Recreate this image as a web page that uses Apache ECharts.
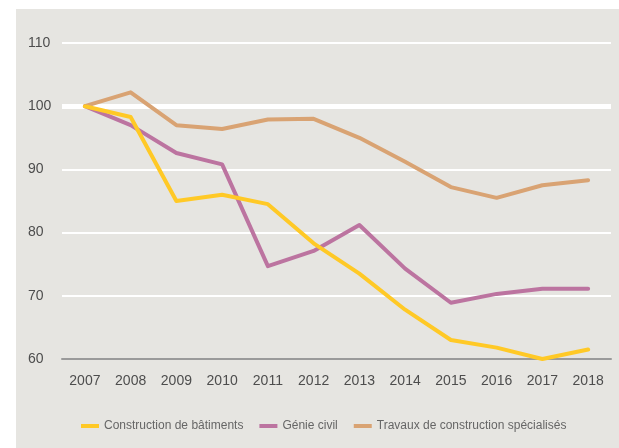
<!DOCTYPE html>
<html>
<head>
<meta charset="utf-8">
<script src="https://cdn.jsdelivr.net/npm/echarts@6/dist/echarts.min.js"></script>
<style>
  html, body { margin: 0; padding: 0; background: #fff; }
  #chart { width: 619px; height: 448px; }
</style>
</head>
<body>
<div id="chart"></div>
<script>
var years = ['2007', '2008', '2009', '2010', '2011', '2012', '2013', '2014', '2015', '2016', '2017', '2018'];
var batiments = [100, 98.3, 85, 86, 84.5, 78.3, 73.5, 67.8, 63, 61.8, 60, 61.5];
var genieCivil = [100, 97, 92.6, 90.8, 74.7, 77.1, 81.2, 74.3, 68.9, 70.3, 71.1, 71.1];
var travaux = [100, 102.2, 97, 96.4, 97.9, 98, 95, 91.2, 87.2, 85.5, 87.5, 88.3];
var seriesNames = ['Construction de bâtiments', 'Génie civil', 'Travaux de construction spécialisés'];

var font = '"Liberation Sans Narrow", "Liberation Sans", sans-serif';
var myChart = echarts.init(document.getElementById('chart'));

function lineSeries(name, data, color) {
  return {
    name: name,
    type: 'line',
    data: data,
    symbol: 'none',
    color: color,
    lineStyle: { width: 4, color: color, cap: 'round', join: 'round' },
    z: 3
  };
}

var sBat = lineSeries(seriesNames[0], batiments, '#FFC926');
var sGenie = lineSeries(seriesNames[1], genieCivil, '#BC74A0');
var sTrav = lineSeries(seriesNames[2], travaux, '#D9A373');
// ligne de référence 100 plus épaisse
sTrav.markLine = {
  silent: true,
  symbol: 'none',
  label: { show: false },
  lineStyle: { color: '#ffffff', width: 5, type: 'solid' },
  data: [{ yAxis: 100 }],
  z: 1
};

var option = {
  backgroundColor: '#ffffff',
  animation: false,
  graphic: [{
    type: 'rect',
    z: -10,
    shape: { x: 16, y: 9, width: 603, height: 439 },
    style: { fill: '#E6E5E1' }
  }],
  grid: { left: 62, right: 8, top: 43, bottom: 89 },
  legend: {
    data: seriesNames,
    left: 76,
    top: 415,
    icon: 'rect',
    itemWidth: 18,
    itemHeight: 4,
    itemGap: 16,
    textStyle: { fontFamily: font, fontSize: 12, color: '#666666' }
  },
  xAxis: {
    type: 'category',
    data: years,
    boundaryGap: true,
    axisLine: { lineStyle: { color: '#9A9A9A', width: 2 } },
    axisTick: { show: false },
    axisLabel: { interval: 0, fontFamily: font, fontSize: 14, color: '#4D4D4D', margin: 15 }
  },
  yAxis: {
    type: 'value',
    min: 60,
    max: 110,
    interval: 10,
    axisLine: { show: false },
    axisTick: { show: false },
    axisLabel: { fontFamily: font, fontSize: 14, color: '#4D4D4D', align: 'left', margin: 34 },
    splitLine: { lineStyle: { color: '#ffffff', width: 2 } }
  },
  series: [sTrav, sGenie, sBat]
};

option && myChart.setOption(option);
</script>
</body>
</html>
